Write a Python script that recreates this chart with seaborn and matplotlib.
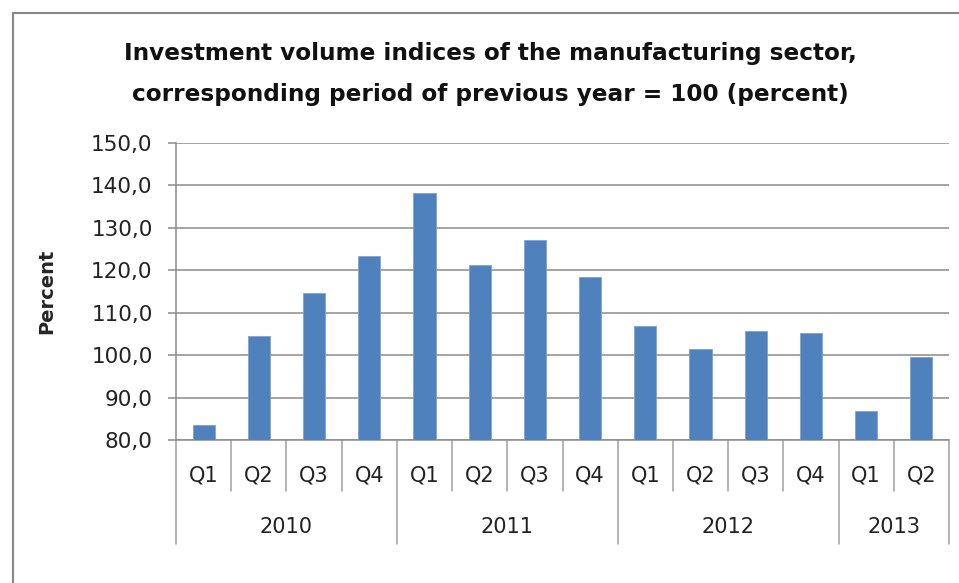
import matplotlib
matplotlib.use("Agg")
import matplotlib.pyplot as plt
import matplotlib.transforms as mtransforms
from matplotlib.lines import Line2D
import seaborn as sns
import pandas as pd

years = ["2010", "2011", "2012", "2013"]
quarters_per_year = [4, 4, 4, 2]
quarters = ["Q1", "Q2", "Q3", "Q4", "Q1", "Q2", "Q3", "Q4",
            "Q1", "Q2", "Q3", "Q4", "Q1", "Q2"]
values = [83.6, 104.6, 114.6, 123.3, 138.2, 121.2, 127.1, 118.3,
          106.9, 101.4, 105.6, 105.3, 86.8, 99.6]
yticks = [80, 90, 100, 110, 120, 130, 140, 150]

title = ("Investment volume indices of the manufacturing sector,\n"
         "corresponding period of previous year = 100 (percent)")

sns.set_theme(style="white")
plt.rcParams['font.family'] = ['DejaVu Sans']

year_col = []
for y, n in zip(years, quarters_per_year):
    year_col += [y] * n
df = pd.DataFrame({"period": [f"{y} {q}" for y, q in zip(year_col, quarters)],
                   "value": values})

W, H = 959, 583
fig = plt.figure(figsize=(W / 100, H / 100), dpi=100)
fig.patch.set_facecolor("white")
ax = fig.add_axes([176 / W, 1 - 440 / H, (949 - 176) / W, (440 - 143) / H])

sns.barplot(data=df, x="period", y="value", color="#4F81BD", saturation=1,
            width=0.4, ax=ax, zorder=3, edgecolor="#7FA3D0", linewidth=0.6)

ax.set_ylim(80, 150)
ax.set_xlim(-0.5, len(values) - 0.5)
ax.set_yticks(yticks)
ax.set_yticklabels([f"{v:.1f}".replace(".", ",") for v in yticks],
                   fontsize=15.5, color="#222222")
ax.yaxis.grid(True, color="#8c8c8c", linewidth=1.1, zorder=0)
ax.set_axisbelow(True)
ax.tick_params(axis="y", which="both", left=True, length=5.8, width=1.1,
               color="#8c8c8c", pad=11)
ax.tick_params(axis="x", bottom=False, labelbottom=False)
for s in ["top", "right"]:
    ax.spines[s].set_visible(False)
for s in ["left", "bottom"]:
    ax.spines[s].set_color("#8c8c8c")
    ax.spines[s].set_linewidth(1.1)
ax.set_xlabel("")
ax.set_ylabel("Percent", fontsize=14, fontweight="bold")
ax.yaxis.set_label_coords((56 - 176) / 773, 0.5)

# multi-level category axis
trans = mtransforms.blended_transform_factory(ax.transData, ax.transAxes)
axh = 440 - 143
q_bottom = -(491 - 440) / axh
g_bottom = -(544 - 440) / axh
q_text = -(475 - 440) / axh
y_text = -(527 - 440) / axh
sep_color = "#a0a0a0"

for i, q in enumerate(quarters):
    ax.text(i, q_text, q, transform=trans, ha="center", va="center",
            fontsize=15, color="#222222")
start = 0
group_edges = [-0.5]
for y, n in zip(years, quarters_per_year):
    ax.text(start + (n - 1) / 2, y_text, y, transform=trans, ha="center",
            va="center", fontsize=15, color="#222222")
    start += n
    group_edges.append(start - 0.5)
for i in range(len(quarters) + 1):
    x = i - 0.5
    bottom = g_bottom if x in group_edges else q_bottom
    ax.add_line(Line2D([x, x], [0, bottom], transform=trans, color=sep_color,
                       linewidth=1.1, clip_on=False))

fig.text(490 / W, 1 - 74 / H, title, ha="center", va="center",
         fontsize=16.7, fontweight="bold", color="#111111", linespacing=1.95)

# chart frame (left and top edges visible)
fig.add_artist(Line2D([12.5 / W, 12.5 / W], [0, 1 - 12.5 / H],
                      transform=fig.transFigure, color="#888888", linewidth=1.5))
fig.add_artist(Line2D([12.5 / W, 1], [1 - 12.5 / H, 1 - 12.5 / H],
                      transform=fig.transFigure, color="#888888", linewidth=1.5))

fig.savefig("out.png", dpi=100)
